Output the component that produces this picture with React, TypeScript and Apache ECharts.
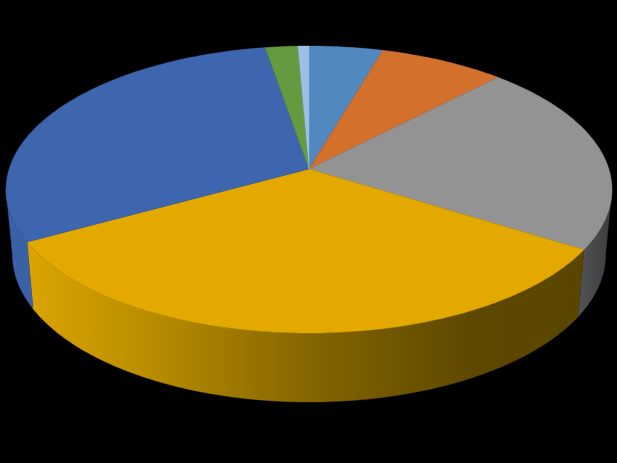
import React, { useEffect, useRef } from "react";
import * as echarts from "echarts";

// Slice sizes, clockwise from twelve o'clock, read as projected angles of the tilted disc.
const sliceNames = ["A", "B", "C", "D", "E", "F", "G"];
const sliceValues = [14.1, 24.5, 76.2, 133.7, 103.2, 6.2, 2.1];
const topColors = ["#5088bf", "#d3702c", "#939393", "#e3a900", "#3d66ae", "#649b40", "#9dc1e6"];

// Rim shading by slice; only slices that reach the front are seen.
const rimStops: Record<number, [number, string][]> = {
  2: [[0, "#505255"], [1, "#3b3c3d"]],
  3: [[0, "#dba400"], [0.22, "#b98d00"], [0.51, "#846500"], [0.8, "#5e4800"], [1, "#5a4500"]],
  4: [[0, "#3a60a5"], [1, "#3a60a5"]],
};

const TOP = { cx: 309, cy: 189.5, rx: 303, ry: 143.5 };
const BOTTOM = { cx: 309, cy: 255, rx: 296.5, ry: 147 };
const APEX = [309, 169];

const rad = (d: number) => (d * Math.PI) / 180;
const onEllipse = (e: typeof TOP, t: number) => [
  e.cx + e.rx * Math.sin(rad(t)),
  e.cy - e.ry * Math.cos(rad(t)),
];
const arc = (e: typeof TOP, a: number, b: number) => {
  const n = Math.max(2, Math.ceil(Math.abs(b - a)));
  const pts: number[][] = [];
  for (let i = 0; i <= n; i++) pts.push(onEllipse(e, a + ((b - a) * i) / n));
  return pts;
};

export default function App() {
  const ref = useRef<HTMLDivElement>(null);
  useEffect(() => {
    document.body.style.margin = "0";
    document.body.style.background = "#000";
    const chart = echarts.init(ref.current!, null, { renderer: "svg" });
    const total = sliceValues.reduce((a, b) => a + b, 0);
    const renderItem = (params: any, api: any) => {
      const i = params.dataIndex;
      let before = 0;
      for (let k = 0; k < i; k++) before += sliceValues[k];
      const t0 = (before / total) * 360;
      const t1 = t0 + (api.value(0) / total) * 360;
      const children: any[] = [];
      const a = Math.max(t0, 90);
      const b = Math.min(t1, 270);
      if (b > a && rimStops[i]) {
        const fill = {
          type: "linear", x: 27, y: 0, x2: 584, y2: 0, global: true,
          colorStops: rimStops[i].map(([offset, color]) => ({ offset, color })),
        };
        if (i !== 3) {
          fill.x = i === 2 ? 580 : 8;
          fill.x2 = i === 2 ? 612 : 34;
        }
        children.push({
          type: "polygon",
          shape: { points: [...arc(TOP, a, b), ...arc(BOTTOM, b, a)] },
          style: { fill, stroke: fill, lineWidth: 0.4 },
        });
      }
      children.push({
        type: "polygon",
        shape: { points: [APEX, ...arc(TOP, t0, t1)] },
        style: { fill: topColors[i], stroke: topColors[i], lineWidth: 0.4 },
      });
      return { type: "group", children };
    };
    chart.setOption({
      animation: false,
      backgroundColor: "#000000",
      series: [
        {
          type: "custom",
          coordinateSystem: "none",
          silent: true,
          renderItem,
          data: sliceValues.map((value, i) => ({ name: sliceNames[i], value: [value] })),
        },
      ],
    });
    return () => chart.dispose();
  }, []);
  return <div ref={ref} style={{ width: 617, height: 463, background: "#000" }} />;
}
